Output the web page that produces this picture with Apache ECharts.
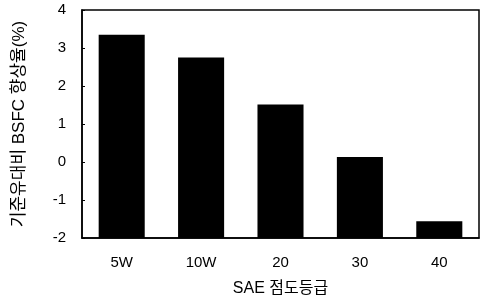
<!DOCTYPE html>
<html>
<head>
<meta charset="utf-8">
<script src="https://cdn.jsdelivr.net/npm/echarts@6/dist/echarts.min.js"></script>
<style>
  html, body { margin: 0; padding: 0; background: #fff; }
  #chart { width: 481px; height: 298px; }
</style>
</head>
<body>
<div id="chart"></div>
<script>
// SAE 점도등급별 BSFC 향상율
const categories = ['5W', '10W', '20', '30', '40']
const improvement = [3.35, 2.75, 1.51, 0.13, -1.56]
const yTicks = [-2, -1, 0, 1, 2, 3, 4]

// 막대가 축 최저값(-2)에서 시작하므로 기준을 옮겨서 그린다
const BASE = yTicks[0]
const shifted = improvement.map(v => v - BASE)

const font = '"Liberation Sans", "Noto Sans CJK KR", sans-serif'

const chart = echarts.init(document.getElementById('chart'))
chart.setOption({
    animation: false,
    grid: {
        left: 82, right: 2, top: 10, bottom: 60,
        outerBoundsMode: 'none',
        containLabel: false,
        show: true,
        borderColor: '#000',
        borderWidth: 1.5
    },
    xAxis: {
        type: 'category',
        data: categories,
        name: 'SAE 점도등급',
        nameLocation: 'middle',
        nameGap: 43,
        nameTextStyle: { color: '#000', fontSize: 16, fontFamily: font },
        axisLine: { lineStyle: { color: '#000', width: 1.5 } },
        axisTick: { inside: true, length: 3, lineStyle: { color: '#000' } },
        axisLabel: { color: '#000', fontSize: 15, fontFamily: font, margin: 17 }
    },
    yAxis: {
        type: 'value',
        min: 0,
        max: yTicks[yTicks.length - 1] - BASE,
        interval: 1,
        name: '기준유대비 BSFC 향상율(%)',
        nameLocation: 'middle',
        nameGap: 54,
        nameTextStyle: { color: '#000', fontSize: 17, fontFamily: font },
        axisLine: { show: true, lineStyle: { color: '#000', width: 1.5 } },
        axisTick: { show: true, inside: true, length: 3, lineStyle: { color: '#000' } },
        splitLine: { show: false },
        axisLabel: {
            color: '#000', fontSize: 15, fontFamily: font, margin: 16,
            formatter: v => String(v + BASE)
        }
    },
    series: [{
        type: 'bar',
        data: shifted,
        barWidth: '58%',
        itemStyle: { color: '#000' }
    }]
})
</script>
</body>
</html>
